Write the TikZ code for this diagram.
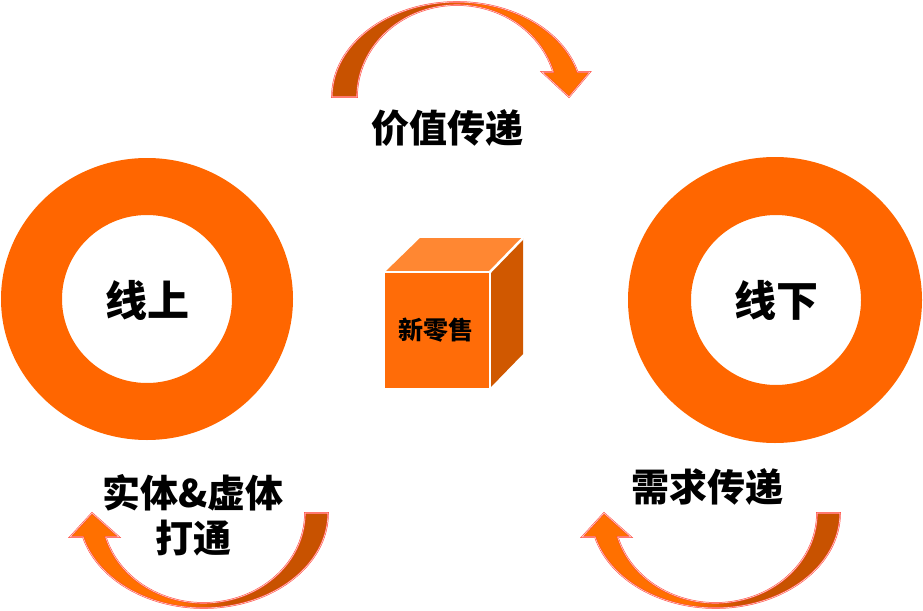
\documentclass[tikz,border=0pt]{standalone}
\usepackage{fontspec}
\newfontfamily\cjk{Noto Sans CJK SC}[BoldFont={Noto Sans CJK SC Black}]
\usetikzlibrary{positioning}
\definecolor{ringorange}{RGB}{255,102,0}
\definecolor{arrowdark}{RGB}{200,82,0}
\definecolor{arrowlight}{RGB}{255,112,0}
\definecolor{arrowedge}{RGB}{255,72,60}
\definecolor{cubefront}{RGB}{255,108,8}
\definecolor{cubetop}{RGB}{255,135,50}
\definecolor{cubeside}{RGB}{208,88,0}
\pgfdeclarehorizontalshading{darkleft}{100bp}{color(0bp)=(arrowdark); color(44bp)=(arrowdark);
    color(54bp)=(arrowlight); color(100bp)=(arrowlight)}
\pgfdeclarehorizontalshading{darkright}{100bp}{color(0bp)=(arrowlight); color(46bp)=(arrowlight);
    color(56bp)=(arrowdark); color(100bp)=(arrowdark)}
\tikzset{ring/.style={fill=ringorange,even odd rule},
    ringword/.style={font=\cjk\bfseries\fontsize{42}{50}\selectfont,inner sep=0},
    bigword/.style={font=\cjk\bfseries\fontsize{38}{45}\selectfont,align=center,inner sep=0},
    cubeword/.style={font=\cjk\bfseries\fontsize{25}{30}\selectfont,inner sep=0},
    cubeface/.style={draw=white,line width=2.5pt,line join=round},
    bentarrow/.style={draw=arrowedge,line width=0.5pt,double=white!75!arrowedge,double distance=0.6pt}
}
\newcommand{\bottomarrow}[1]
{
% args: (x shift of the arrow)
    \begin{scope}[xshift=#1]
    \draw [bentarrow,shading=darkright]
        (328,513) arc [start angle=0,end angle=165.37,x radius=124.5,y radius=95]
        -- (70,537) -- (92,513) -- (119,537) -- (105.7,537)
        arc [start angle=164.53,end angle=0,x radius=101.5,y radius=90] -- cycle;
    \end{scope}
}
\begin{document}
\begin{tikzpicture}[x=1pt,y=-1pt]
\useasboundingbox (0,0) rectangle (923,610);

%% rings
\fill [ring] (147,299) ellipse [x radius=146,y radius=141]
    (147,299) ellipse [x radius=85,y radius=84];
\fill [ring] (775,300) ellipse [x radius=147,y radius=143]
    (776,300) ellipse [x radius=85,y radius=85];

\node (online) at (147,300) [ringword] {线上};
\node (offline) at (776,300) [ringword] {线下};

%% cube
\fill [cubefront] (385,272) rectangle (490,388);
\fill [cubetop] (385,272) -- (420,238) -- (523,238) -- (490,272) -- cycle;
\fill [cubeside] (490,272) -- (523,238) -- (523,354) -- (490,388) -- cycle;
\draw [cubeface] (385,272) -- (490,272) -- (490,388);
\draw [cubeface] (490,272) -- (523,238);

\node (newretail) at (436,330) [cubeword] {新零售};

%% top arrow
\draw [bentarrow,shading=darkleft]
    (332,97) arc [start angle=180,end angle=344.74,x radius=125,y radius=95]
    -- (590,72) -- (569,97) -- (542,72) -- (553.2,72)
    arc [start angle=344.23,end angle=180,x radius=100,y radius=92] -- cycle;

%% bottom arrows
\bottomarrow{0}
\bottomarrow{512}

%% labels
\node (valueflow) at (447,128) [bigword] {价值传递};
\node (demandflow) at (707,487) [bigword] {需求传递};
\node (merge) at (193,515) [bigword] {实体\&虚体\\打通};

\end{tikzpicture}
\end{document}
